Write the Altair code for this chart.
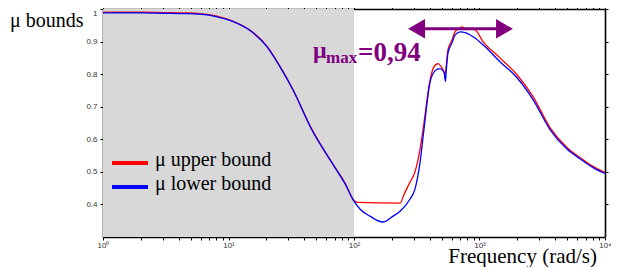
import altair as alt
import pandas as pd

# ---- data ----
freq_upper = [1, 2, 3, 4.5, 5.9, 8.1, 10.9, 15.7, 20.3, 25.7, 32.6, 46, 68, 85, 100, 106,
              233, 250, 279, 306, 336, 355, 403, 430, 467, 512, 531, 561, 604, 638, 690,
              726, 780, 850, 920, 1067, 1456, 1990, 2670, 3646, 4980, 6320, 8020, 10000]
mu_upper = [0.990, 0.990, 0.989, 0.988, 0.986, 0.978, 0.962, 0.928, 0.885, 0.824, 0.753,
            0.632, 0.523, 0.465, 0.412, 0.406, 0.404, 0.430, 0.468, 0.500, 0.570, 0.630,
            0.780, 0.820, 0.832, 0.813, 0.800, 0.875, 0.905, 0.930, 0.940, 0.945, 0.937,
            0.938, 0.936, 0.900, 0.850, 0.798, 0.731, 0.636, 0.575, 0.544, 0.517, 0.498]

freq_lower = [1, 2, 3, 4.5, 5.9, 8.1, 10.9, 15.7, 20.3, 25.7, 32.6, 46, 68, 85, 100, 112,
              134, 170, 205, 233, 279, 306, 336, 361, 403, 442, 484, 521, 536, 541, 561,
              604, 638, 700, 780, 920, 1067, 1456, 1990, 2670, 3646, 4980, 6320, 8020, 10000]
mu_lower = [0.988, 0.988, 0.987, 0.986, 0.984, 0.976, 0.961, 0.927, 0.884, 0.823, 0.752,
            0.630, 0.523, 0.463, 0.410, 0.385, 0.364, 0.346, 0.364, 0.379, 0.416, 0.447,
            0.529, 0.630, 0.774, 0.810, 0.817, 0.807, 0.778, 0.800, 0.865, 0.896, 0.920,
            0.930, 0.927, 0.911, 0.890, 0.838, 0.789, 0.722, 0.630, 0.570, 0.540, 0.513,
            0.495]

shade_from = [1]
shade_to = [100]
y_floor = [0.3]
y_ceiling = [1.0]

x_ticks = [m * 10 ** k for k in range(4) for m in range(1, 10)] + [10000]
x_tick_labels = {1: "10⁰", 10: "10¹", 100: "10²", 1000: "10³", 10000: "10⁴"}
y_ticks = [0.4, 0.5, 0.6, 0.7, 0.8, 0.9, 1.0]

series_names = ["μ upper bound", "μ lower bound"]
series_colors = ["#ff0000", "#0000ff"]

arrow_span = [315, 1582]
arrow_level = [0.939]

y_title = ["μ bounds"]
x_title = ["Frequency (rad/s)"]
annot_mu = ["μ"]
annot_sub = ["max"]
annot_value = ["=0,94"]

PURPLE = "#800080"
SERIF = "Liberation Serif, Times New Roman, DejaVu Serif, serif"

X_DOMAIN = [1, 10000]
Y_DOMAIN = [0.3, 1.0]

x_label_expr = " : ".join(
    f"datum.value == {k} ? '{v}'" for k, v in x_tick_labels.items()) + " : ''"

xscale = alt.Scale(type="log", domain=X_DOMAIN, nice=False)
yscale = alt.Scale(domain=Y_DOMAIN, nice=False, zero=False)

axis_common = dict(domainColor="black", domainWidth=1.6, tickColor="black", tickWidth=1,
                   tickSize=3, grid=False, title=None,
                   labelFont="Liberation Sans", labelFontSize=8, labelColor="#333333")

x_bottom = alt.Axis(orient="bottom", values=x_ticks, labelExpr=x_label_expr,
                    labelPadding=1, labelFlush=False, labelOverlap=False, **axis_common)
y_left = alt.Axis(orient="left", values=y_ticks,
                  labelExpr="datum.value == 1 ? '1' : format(datum.value, '.1f')",
                  labelPadding=3, labelFlush=True, labelFlushOffset=0, **axis_common)
x_top = alt.Axis(orient="top", values=x_ticks, labels=False, **axis_common)
y_right = alt.Axis(orient="right", values=y_ticks, labels=False, **axis_common)

# shaded region (carries the top / right frame axes)
shade_df = pd.DataFrame({"x0": shade_from, "x1": shade_to, "y0": y_floor, "y1": y_ceiling})
shade = alt.Chart(shade_df).mark_rect(color="#d8d8d8").encode(
    x=alt.X("x0:Q", scale=xscale, axis=x_top),
    x2="x1:Q",
    y=alt.Y("y0:Q", scale=yscale, axis=y_right),
    y2="y1:Q",
)

up_df = pd.DataFrame({"f": freq_upper, "mu": mu_upper})
lo_df = pd.DataFrame({"f": freq_lower, "mu": mu_lower})

upper = alt.Chart(up_df).mark_line(color=series_colors[0], strokeWidth=1.3,
                                   interpolate="monotone").encode(
    x=alt.X("f:Q", scale=xscale, axis=x_bottom),
    y=alt.Y("mu:Q", scale=yscale, axis=y_left),
)
lower = alt.Chart(lo_df).mark_line(color=series_colors[1], strokeWidth=1.3,
                                   interpolate="monotone").encode(
    x=alt.X("f:Q", scale=xscale, axis=None),
    y=alt.Y("mu:Q", scale=yscale, axis=None),
)

# double arrow
arr_df = pd.DataFrame({"a": [arrow_span[0]], "b": [arrow_span[1]], "lvl": arrow_level})
arrow_line = alt.Chart(arr_df).mark_rule(color=PURPLE, strokeWidth=3).encode(
    x=alt.X("a:Q", scale=xscale, axis=None), x2="b:Q",
    y=alt.Y("lvl:Q", scale=yscale, axis=None),
)
head_df = pd.DataFrame({"f": arrow_span, "lvl": arrow_level * 2,
                        "shape": ["triangle-left", "triangle-right"]})
arrow_heads = alt.Chart(head_df).mark_point(filled=True, color=PURPLE, opacity=1,
                                            size=380, strokeWidth=0).encode(
    x=alt.X("f:Q", scale=xscale, axis=None),
    y=alt.Y("lvl:Q", scale=yscale, axis=None),
    shape=alt.Shape("shape:N", scale=None, legend=None),
)

# legend drawn by hand
leg_lines = []
leg_texts = []
for i, (nm, col) in enumerate(zip(series_names, series_colors)):
    d = pd.DataFrame({"name": [nm]})
    leg_lines.append(alt.Chart(d).mark_rule(color=col, strokeWidth=4).encode(
        x=alt.value(9), x2=alt.value(45), y=alt.value(154 + 24 * i)))
    leg_texts.append(alt.Chart(d).mark_text(font=SERIF, fontSize=20, align="left",
                                            baseline="alphabetic", color="black").encode(
        x=alt.value(52), y=alt.value(157 + 24 * i), text="name:N"))


def label(values, x, y, size, color="black", bold=False, align="left"):
    d = pd.DataFrame({"t": values})
    return alt.Chart(d).mark_text(font=SERIF, fontSize=size, align=align,
                                  baseline="alphabetic", color=color,
                                  fontWeight="bold" if bold else "normal").encode(
        x=alt.value(x), y=alt.value(y), text="t:N")


texts = [
    label(y_title, -93, 18, 20),
    label(x_title, 494, 254, 21, align="right"),
    label(annot_mu, 210, 49, 24, PURPLE, True),
    label(annot_sub, 223, 54, 17, PURPLE, True),
    label(annot_value, 255, 52, 27, PURPLE, True),
]

chart = alt.layer(shade, upper, lower, arrow_line, arrow_heads, *leg_lines, *leg_texts,
                  *texts).resolve_axis(x="independent", y="independent").properties(
    width=502, height=228,
    autosize=alt.AutoSizeParams(type="none"),
    padding={"left": 95, "top": 1, "right": 6, "bottom": 30},
    background="white",
).configure_view(stroke=None)

chart.save("out.html", embed_options={"renderer": "svg", "actions": False})
